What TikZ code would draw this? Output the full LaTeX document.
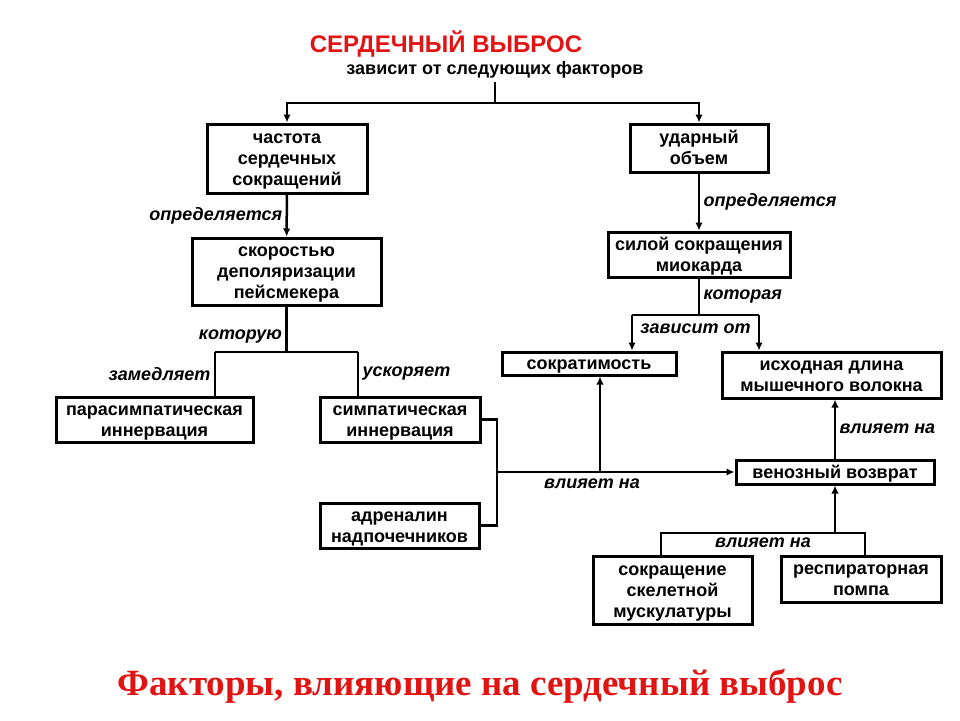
\documentclass[tikz,border=0pt]{standalone}
\usepackage{fontspec}
\setmainfont{Liberation Sans}
\newfontfamily\tmsfont{Liberation Serif}
\usetikzlibrary{arrows.meta}
\definecolor{titlered}{RGB}{225,20,20}
\tikzset{
  blok/.style={draw, line width=3pt, align=center, inner sep=0pt,
    font=\fontsize{18}{21}\selectfont\bfseries},
  ln/.style={line width=2.5pt},
  arr/.style={line width=2.5pt, -{Latex[length=8pt,width=7.5pt]}},
  lbl/.style={font=\fontsize{18}{21}\selectfont\bfseries\itshape}
}
% name, x, y, width, height, text
\newcommand{\blok}[6]{\node[blok, minimum width=#4, minimum height=#5] (#1) at (#2,#3)
  {\rule{0pt}{16pt}#6\rule[-4pt]{0pt}{4pt}};}
\begin{document}
\begin{tikzpicture}[x=1pt,y=-1pt]
\useasboundingbox (0,0) rectangle (960,720);

% titles
\node[text=titlered, font=\fontsize{24}{28}\selectfont\bfseries] (title) at (446,44) {СЕРДЕЧНЫЙ ВЫБРОС};
\node[font=\fontsize{18}{21}\selectfont\bfseries] (sub) at (495,70) {зависит от следующих факторов};
\node[text=titlered, font=\fontsize{37}{40}\selectfont\tmsfont\bfseries] (bottom) at (480,686) {Факторы, влияющие на сердечный выброс};

% left column
\blok{chss}{287}{158.5}{160}{69}{частота\\сердечных\\сокращений}
\blok{skor}{286.5}{271.5}{189}{67}{скоростью\\деполяризации\\пейсмекера}
\blok{para}{154.5}{419.5}{197}{45}{парасимпатическая\\иннервация}
\blok{simp}{400}{419.5}{160}{45}{симпатическая\\иннервация}
\blok{adr}{399.5}{525.5}{159}{45}{адреналин\\надпочечников}

% right column
\blok{uo}{699}{148}{138}{48}{ударный\\объем}
\blok{sila}{699}{254.5}{182}{45}{силой сокращения\\миокарда}
\blok{sokr}{589}{363.5}{174}{23}{сократимость}
\blok{isx}{831.5}{375}{219}{46}{исходная длина\\мышечного волокна}
\blok{ven}{835}{472}{198}{24}{венозный возврат}
\blok{sk}{672.5}{590}{159}{68}{сокращение\\скелетной\\мускулатуры}
\blok{resp}{861}{579}{160}{46}{респираторная\\помпа}

% branch points
\coordinate (s1) at (495,103);
\coordinate (k1) at (286.5,352);
\coordinate (z1) at (215,352);
\coordinate (z2) at (358,352);
\coordinate (br) at (497,472);
\coordinate (v1) at (600,472);
\coordinate (kt) at (699,315);
\coordinate (z3) at (632,315);
\coordinate (z4) at (759,315);
\coordinate (m1) at (835,533);
\coordinate (z5) at (661,533);
\coordinate (z6) at (865,533);

% connectors
\draw[ln] (sub.south) -- (s1);
\draw[arr] (s1) -| (chss.north);
\draw[arr] (s1) -| (uo.north);

\draw[arr] (chss) -- (skor) node[lbl, midway, left] {определяется};
\draw[ln] (skor.south) -- (k1) node[lbl, pos=0.65, left] {которую};
\draw[ln] (z1) -- (z2);
\draw[ln] (z1) -- (z1 |- para.north) node[lbl, midway, left] {замедляет};
\draw[ln] (z2) -- (z2 |- simp.north) node[lbl, midway, right] {ускоряет};

\draw[ln] (simp.east) -| (br) |- (adr.east);
\draw[arr] (br) -- (ven.west) node[lbl, pos=0.4, below=2pt] {влияет на};
\draw[arr] (v1) -- (v1 |- sokr.south);

\draw[arr] (uo) -- (sila) node[lbl, midway, right] {определяется};
\draw[ln] (sila.south) -- (kt) node[lbl, midway, right] {которая};
\draw[ln] (z3) -- (z4) node[lbl, midway, below=4pt] {зависит от};
\draw[arr] (z3) -- (z3 |- sokr.north);
\draw[arr] (z4) -- (z4 |- isx.north);

\draw[arr] (ven.north) -- (ven.north |- isx.south) node[lbl, midway, right] {влияет на};
\draw[arr] (m1) -- (ven.south);
\draw[ln] (z5 |- sk.north) -- (z5) -- (z6) node[lbl, midway, below=0pt] {влияет на} -- (z6 |- resp.north);
\end{tikzpicture}
\end{document}
